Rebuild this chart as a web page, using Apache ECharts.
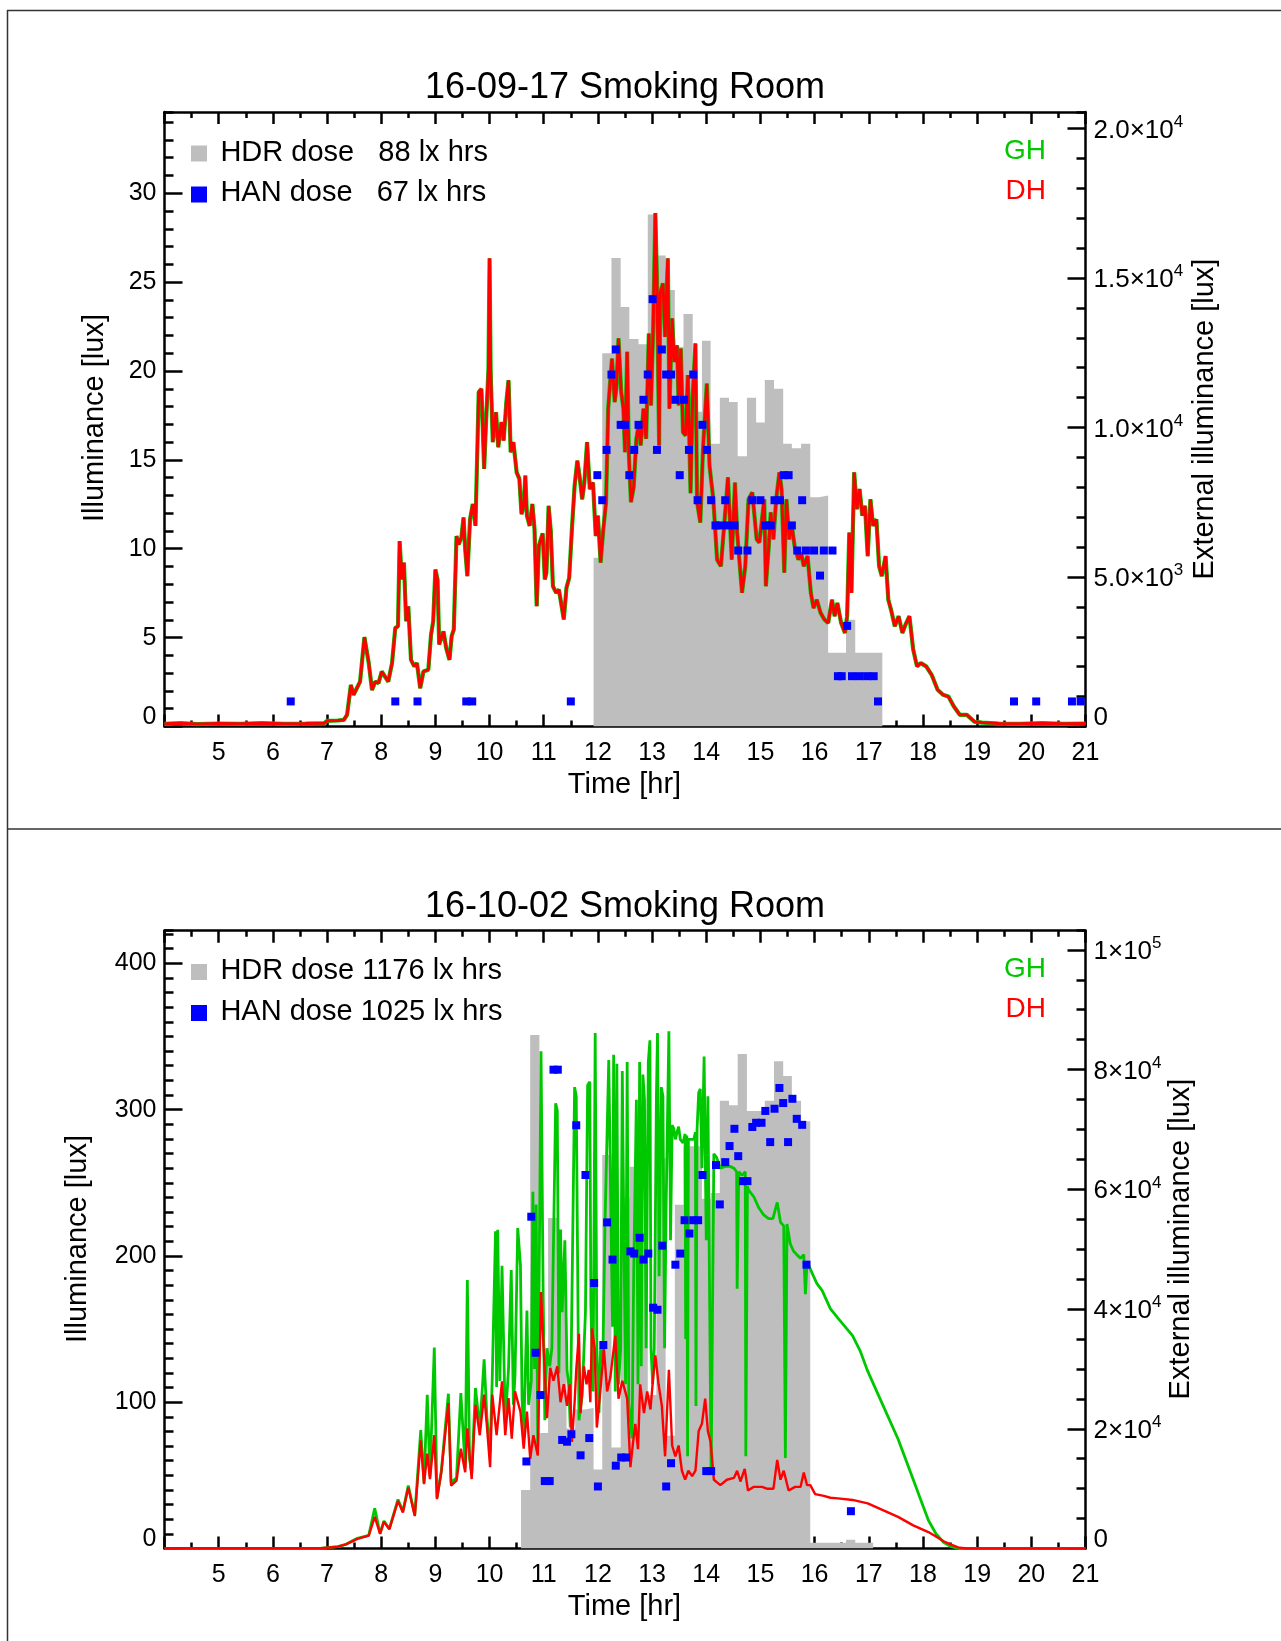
<!DOCTYPE html>
<html>
<head>
<meta charset="utf-8">
<script src="https://cdn.jsdelivr.net/npm/echarts@6.0.0/dist/echarts.min.js"></script>
<style>
html, body { margin: 0; padding: 0; background: #fff; }
#chart { width: 1281px; height: 1641px; }
</style>
</head>
<body>
<div id="chart"></div>
<script>
// ---------- 16-09-17 (top panel) ----------
// HDR dose, 10 min bins: bin start times [hr] and lux (last entry closes the last bin)
const hdrTopTimes = [11.92, 12.08, 12.25, 12.42, 12.58, 12.75, 12.92, 13.08, 13.25, 13.42, 13.58, 13.75, 13.92, 14.08, 14.25, 14.42,
    14.58, 14.75, 14.92, 15.08, 15.25, 15.42, 15.58, 15.75, 15.92, 16.08, 16.25, 16.42, 16.58, 16.75, 16.92, 17.08, 17.25];
const hdrTopLux = [9.5, 21.0, 26.35, 23.6, 21.8, 21.5, 28.8, 26.5, 24.55, 21.35, 23.2, 17.7, 21.7, 15.9, 18.5, 18.25,
    15.2, 18.5, 17.1, 19.5, 19.0, 15.9, 15.65, 15.9, 12.9, 13.0, 4.15, 4.15, 6.0, 4.15, 4.15, 4.15, 0];

// HAN readings [hr, lux]
const hanTop = [[6.33, 1.41], [8.26, 1.41], [8.67, 1.41], [9.57, 1.41], [9.68, 1.41], [11.5, 1.41],
    [11.99, 14.14], [12.08, 12.73], [12.16, 15.56], [12.25, 19.8], [12.33, 21.21], [12.42, 16.97], [12.5, 16.97], [12.58, 14.14],
    [12.67, 15.56], [12.75, 16.97], [12.84, 18.38], [12.92, 19.8], [13.01, 24.04], [13.09, 15.56], [13.18, 21.21], [13.26, 19.8],
    [13.35, 19.8], [13.43, 18.38], [13.51, 14.14], [13.59, 18.38], [13.68, 15.56], [13.76, 19.8], [13.84, 12.73], [13.93, 16.97],
    [14.01, 15.56], [14.09, 12.73], [14.17, 11.31], [14.26, 11.31], [14.35, 12.73], [14.4, 11.31], [14.52, 11.31], [14.59, 9.9],
    [14.76, 9.9], [14.85, 12.73], [15.0, 12.73], [15.09, 11.31], [15.19, 11.31], [15.26, 12.73], [15.36, 12.73], [15.43, 14.14],
    [15.52, 14.14], [15.58, 11.31], [15.68, 9.9], [15.77, 12.73], [15.84, 9.9], [15.99, 9.9], [16.1, 8.49], [16.17, 9.9],
    [16.33, 9.9], [16.43, 2.83], [16.5, 2.83], [16.6, 5.66], [16.69, 2.83], [16.83, 2.83], [16.97, 2.83], [17.09, 2.83],
    [17.17, 1.41], [19.68, 1.41], [20.09, 1.41], [20.75, 1.41], [20.91, 1.41]];

// DH external illuminance [hr, lux]
const dhTop = [[4.0, 90], [4.3, 110], [4.6, 80], [5.0, 100], [5.4, 90], [5.8, 110], [6.2, 90], [6.6, 100], [6.95, 110], [7.0, 190],
    [7.2, 200], [7.31, 220], [7.37, 390], [7.44, 1390], [7.49, 1060], [7.55, 1280], [7.61, 1500], [7.69, 2990], [7.77, 2120],
    [7.83, 1220], [7.89, 1500], [7.95, 1450], [8.01, 1840], [8.07, 1670], [8.13, 1500], [8.2, 2120], [8.26, 3300], [8.31, 3350],
    [8.34, 6200], [8.38, 4920], [8.42, 5480], [8.46, 3520], [8.5, 4020], [8.55, 2230], [8.61, 2010], [8.66, 2120], [8.72, 1280],
    [8.78, 1840], [8.87, 1900], [8.92, 3070], [8.96, 3520], [9.0, 5250], [9.04, 4920], [9.07, 2740], [9.15, 3180], [9.2, 2620],
    [9.26, 2230], [9.3, 3020], [9.34, 3240], [9.39, 6370], [9.43, 6090], [9.48, 6320], [9.52, 6990], [9.55, 5930], [9.59, 5030],
    [9.64, 6930], [9.69, 7440], [9.74, 6710], [9.8, 11180], [9.85, 11290], [9.9, 8610], [9.93, 9950], [9.98, 11960], [10.0, 15660],
    [10.02, 11850], [10.06, 9510], [10.12, 10510], [10.16, 9340], [10.22, 10180], [10.26, 9560], [10.31, 10850], [10.35, 11580],
    [10.39, 9170], [10.44, 9510], [10.5, 8500], [10.55, 8280], [10.59, 7100], [10.63, 7380], [10.66, 8390], [10.69, 7050],
    [10.74, 6710], [10.79, 7440], [10.83, 6600], [10.87, 4020], [10.91, 6040], [10.98, 6460], [11.02, 4920], [11.05, 5140],
    [11.09, 7380], [11.13, 6540], [11.17, 4690], [11.23, 4470], [11.28, 4580], [11.37, 3580], [11.42, 4640], [11.47, 4970],
    [11.52, 6600], [11.57, 8050], [11.62, 8890], [11.66, 8390], [11.71, 7600], [11.75, 8160], [11.8, 9510], [11.85, 7940],
    [11.91, 8160], [11.96, 6370], [12.0, 7050], [12.05, 5480], [12.1, 6600], [12.15, 7490], [12.19, 10630], [12.23, 11630],
    [12.26, 12300], [12.31, 10850], [12.34, 11300], [12.38, 12980], [12.43, 11190], [12.47, 10630], [12.5, 9170], [12.54, 12530],
    [12.57, 9170], [12.61, 7500], [12.66, 8000], [12.71, 9620], [12.75, 10070], [12.79, 9400], [12.84, 10630], [12.89, 9620],
    [12.94, 13140], [12.98, 10740], [13.02, 13310], [13.06, 17170], [13.09, 14880], [13.13, 9400], [13.15, 14490], [13.2, 14820],
    [13.24, 13030], [13.29, 15660], [13.32, 10630], [13.37, 13650], [13.41, 12190], [13.46, 12750], [13.49, 10740], [13.53, 12640],
    [13.57, 9840], [13.62, 9730], [13.66, 11750], [13.71, 7800], [13.75, 11070], [13.8, 12810], [13.83, 7500], [13.89, 6820],
    [13.94, 9280], [14.01, 11470], [14.06, 8720], [14.13, 7600], [14.2, 5580], [14.27, 5360], [14.33, 6710], [14.4, 8330],
    [14.47, 5580], [14.53, 8160], [14.57, 6490], [14.62, 5360], [14.66, 4470], [14.72, 5360], [14.78, 7600], [14.85, 7830],
    [14.93, 6260], [14.98, 6150], [15.07, 7600], [15.1, 4690], [15.15, 5930], [15.19, 7160], [15.24, 6260], [15.29, 7600],
    [15.35, 8500], [15.39, 7940], [15.44, 5140], [15.48, 7600], [15.53, 6260], [15.58, 6710], [15.63, 6040], [15.7, 5580],
    [15.75, 5810], [15.8, 5360], [15.87, 5700], [15.93, 4470], [15.98, 3960], [16.04, 4240], [16.11, 3800], [16.18, 3580],
    [16.25, 3460], [16.32, 4240], [16.37, 3690], [16.42, 4130], [16.49, 3460], [16.56, 3130], [16.6, 3690], [16.64, 6490],
    [16.68, 4470], [16.73, 8500], [16.78, 7270], [16.83, 7940], [16.88, 7050], [16.93, 7380], [16.98, 5700], [17.03, 7600],
    [17.08, 6710], [17.14, 6930], [17.19, 5360], [17.24, 5030], [17.31, 5700], [17.36, 4240], [17.41, 3910], [17.48, 3350],
    [17.55, 3690], [17.62, 3130], [17.69, 3460], [17.75, 3690], [17.82, 2570], [17.89, 2010], [17.96, 2120], [18.06, 2010],
    [18.16, 1730], [18.27, 1230], [18.37, 1060], [18.47, 1000], [18.57, 670], [18.68, 390], [18.81, 390], [18.95, 160],
    [19.09, 130], [19.4, 100], [19.8, 90], [20.2, 110], [20.6, 90], [21.0, 100]];
// overcast day: GH lies on DH within the line width, one trace read for both
const ghTop = dhTop;

// ---------- 16-10-02 (bottom panel) ----------
const hdrBotTimes = [10.58, 10.75, 10.92, 11.08, 11.25, 11.42, 11.58, 11.75, 11.92, 12.08, 12.25, 12.42, 12.58, 12.75, 12.92, 13.08,
    13.25, 13.42, 13.58, 13.75, 13.92, 14.08, 14.25, 14.42, 14.58, 14.75, 14.92, 15.08, 15.25, 15.42, 15.58, 15.75,
    15.92, 16.08, 16.25, 16.42, 16.58, 16.75, 16.92, 17.08];
const hdrBotLux = [40, 351, 79, 226, 189, 82, 95, 96, 54, 269, 69, 240, 261, 216, 105, 267,
    77, 235, 275, 275, 239, 243, 306, 303, 338, 299, 299, 306, 333, 323, 306, 292,
    4, 4, 4, 4, 6, 4, 4, 0];

const hanBot = [[10.68, 59.5], [10.77, 226.8], [10.85, 133.8], [10.94, 104.9], [11.02, 46.1], [11.11, 46.1], [11.18, 327.3],
    [11.26, 327.3], [11.34, 74.2], [11.43, 73.0], [11.51, 78.1], [11.6, 289.3], [11.68, 63.7], [11.77, 255.3], [11.84, 75.5],
    [11.93, 181.5], [12.0, 42.4], [12.1, 139.1], [12.17, 222.9], [12.27, 197.5], [12.33, 56.6], [12.43, 62.2], [12.52, 62.2],
    [12.6, 203.1], [12.67, 201.6], [12.77, 212.4], [12.84, 197.5], [12.93, 201.6], [13.02, 164.6], [13.1, 163.2], [13.19, 207.0],
    [13.26, 42.4], [13.35, 58.3], [13.43, 194.0], [13.52, 201.6], [13.6, 224.4], [13.69, 215.3], [13.76, 224.4], [13.85, 224.4],
    [13.93, 255.3], [14.0, 52.9], [14.09, 52.9], [14.18, 262.1], [14.25, 235.2], [14.35, 264.1], [14.43, 275.1], [14.52, 286.9],
    [14.59, 268.2], [14.68, 251.1], [14.76, 251.1], [14.85, 288.1], [14.92, 291.0], [15.02, 291.0], [15.09, 299.1], [15.18, 277.8],
    [15.26, 300.6], [15.35, 314.8], [15.42, 304.5], [15.51, 277.8], [15.59, 307.4], [15.67, 293.7], [15.77, 289.6], [15.85, 194.0],
    [16.67, 25.5]];

const dhBot = [[4.0, 30], [5.0, 30], [6.0, 30], [6.9, 40], [7.2, 300], [7.35, 700], [7.56, 1600], [7.77, 2150], [7.88, 5280],
    [7.98, 2450], [8.05, 4500], [8.15, 3200], [8.31, 7950], [8.4, 6000], [8.5, 10200], [8.62, 5420], [8.73, 18070], [8.79, 10760],
    [8.85, 15840], [8.9, 11600], [8.98, 18920], [9.03, 8240], [9.11, 12740], [9.24, 24280], [9.29, 10490], [9.39, 11320],
    [9.47, 16680], [9.55, 12740], [9.59, 20060], [9.67, 11600], [9.74, 24000], [9.82, 18920], [9.9, 25690], [9.95, 20620],
    [10.01, 13580], [10.05, 25690], [10.13, 18920], [10.23, 27930], [10.29, 18920], [10.35, 25130], [10.41, 18360], [10.47, 26250],
    [10.57, 22860], [10.63, 16680], [10.69, 22860], [10.75, 14990], [10.81, 18920], [10.89, 15540], [10.95, 42850], [11.0, 33000],
    [11.06, 21750], [11.12, 30190], [11.18, 28030],
    [11.25, 30440], [11.31, 24430], [11.37, 27430], [11.43, 23820], [11.48, 27430], [11.52, 17810], [11.57, 24430], [11.6, 29840],
    [11.65, 35860], [11.68, 22620], [11.74, 30440], [11.79, 27430], [11.83, 29840], [11.86, 24430], [11.89, 36760], [11.94, 33450],
    [11.98, 20210], [12.05, 26830], [12.11, 33450], [12.17, 26230], [12.23, 28640], [12.32, 35560], [12.38, 25030], [12.45, 28030],
    [12.54, 25030], [12.6, 13600], [12.65, 17810], [12.69, 20820], [12.74, 16600], [12.78, 27430], [12.85, 22620], [12.91, 26230],
    [12.97, 23220], [13.02, 28640], [13.06, 32250], [13.12, 27430], [13.18, 23820], [13.24, 15400], [13.31, 29840], [13.37, 17210],
    [13.43, 15400], [13.49, 17210], [13.55, 12990], [13.61, 11490], [13.67, 12990], [13.74, 12090], [13.8, 12990], [13.86, 19610],
    [13.92, 20820], [13.98, 25030], [14.03, 19610], [14.08, 17810], [14.14, 11490], [14.26, 10590], [14.38, 11490], [14.51, 11790],
    [14.57, 12990], [14.63, 11190], [14.71, 13300], [14.77, 9690], [14.87, 10290], [15.03, 10290], [15.12, 9990], [15.24, 9990],
    [15.31, 14800], [15.37, 11490], [15.43, 12990], [15.52, 9690], [15.64, 10290], [15.74, 10290], [15.8, 12690], [15.86, 10590],
    [15.92, 10590], [16.01, 9080], [16.17, 8780], [16.29, 8480], [16.43, 8380], [16.7, 8110], [16.98, 7550], [17.26, 6400],
    [17.54, 5280], [17.82, 3870], [18.1, 2750], [18.24, 2000], [18.38, 1210], [18.52, 640], [18.65, 190], [18.79, 0], [19.5, 20],
    [21.0, 20]];

const ghBot = [[4.0, 30], [5.0, 30], [6.0, 30], [6.9, 40], [7.2, 300], [7.35, 700], [7.56, 1700], [7.77, 2200], [7.88, 6700],
    [7.98, 2500], [8.05, 4600], [8.15, 3300], [8.31, 8200], [8.4, 6200], [8.5, 10500], [8.62, 5600], [8.73, 19780], [8.79, 11000],
    [8.85, 25690], [8.9, 12000], [8.98, 33570], [9.03, 8500], [9.11, 13000], [9.24, 25860], [9.29, 11000], [9.39, 11800],
    [9.47, 25970], [9.55, 13500], [9.59, 44830], [9.63, 15000], [9.67, 12500], [9.74, 26820], [9.82, 20000], [9.9, 31600],
    [9.95, 22000], [10.01, 16000], [10.05, 28500], [10.11, 52980], [10.13, 27000], [10.15, 53260], [10.19, 28000], [10.23, 47240],
    [10.29, 21000], [10.35, 30000], [10.4, 46510], [10.44, 24000], [10.47, 29000], [10.52, 53540], [10.57, 47350], [10.6, 25000],
    [10.63, 19000], [10.69, 39750], [10.72, 24000], [10.77, 28000], [10.8, 59610], [10.83, 30000], [10.86, 57470], [10.89, 17000],
    [10.95, 83080], [10.99, 41870], [11.02, 21420], [11.06, 33450], [11.11, 30440], [11.15, 33450], [11.22, 74360], [11.25, 73150],
    [11.28, 29240], [11.31, 53300], [11.34, 39460], [11.39, 51500], [11.43, 29840], [11.46, 27430], [11.49, 20210], [11.57, 77070],
    [11.6, 75560], [11.65, 21420], [11.71, 25630], [11.77, 39460], [11.81, 77370], [11.85, 77970], [11.87, 40670], [11.91, 26230],
    [11.95, 86090], [11.98, 33450], [12.02, 22620], [12.05, 33450], [12.09, 31040], [12.13, 53900], [12.16, 53900], [12.2, 81580],
    [12.23, 81580], [12.27, 37060], [12.29, 82480], [12.32, 26230], [12.35, 80980], [12.38, 27430], [12.42, 33450], [12.45, 79770],
    [12.48, 51500], [12.51, 27430], [12.54, 81280], [12.57, 24430], [12.63, 18410], [12.66, 45480], [12.71, 74960], [12.74, 27430],
    [12.77, 81280], [12.8, 30440], [12.83, 79170], [12.86, 74960], [12.89, 33450], [12.93, 81280], [12.96, 84890], [12.98, 33450],
    [13.01, 27430], [13.04, 33450], [13.08, 75560], [13.1, 86090], [13.13, 45480], [13.17, 77070], [13.2, 75560], [13.23, 33450],
    [13.26, 57510], [13.31, 86390], [13.34, 51500], [13.37, 70750], [13.4, 70150], [13.43, 68340], [13.46, 69550], [13.49, 70450],
    [13.52, 68340], [13.57, 67740], [13.61, 69250], [13.62, 35000], [13.64, 69000], [13.655, 15400], [13.67, 68340], [13.71, 68340],
    [13.77, 68340], [13.8, 69550], [13.81, 23800], [13.83, 70000], [13.86, 76160], [13.89, 76770], [13.92, 63530], [13.96, 82180],
    [14.0, 51500], [14.03, 75560], [14.06, 75560], [14.09, 12390], [14.14, 65940], [14.19, 65330], [14.26, 63530], [14.35, 63830],
    [14.44, 63830], [14.51, 63530], [14.56, 62930], [14.57, 43380], [14.6, 62930], [14.66, 62330], [14.72, 62930], [14.73, 15400],
    [14.76, 60520], [14.78, 59920], [14.88, 58720], [14.97, 56910], [15.06, 55710], [15.15, 55110], [15.23, 55110], [15.31, 57810],
    [15.37, 54500], [15.43, 53900], [15.46, 15100], [15.49, 54200], [15.55, 50900], [15.61, 49690], [15.67, 49090], [15.74, 48490],
    [15.8, 49090], [15.83, 42470], [15.86, 47890], [15.95, 46080], [16.04, 44280], [16.14, 43070], [16.2, 41870], [16.29, 40070],
    [16.43, 38500], [16.7, 35570], [16.84, 33020], [16.98, 29620], [17.26, 23960], [17.54, 18300], [17.68, 14910], [17.82, 11510],
    [17.96, 8120], [18.1, 4720], [18.24, 2460], [18.38, 1040], [18.52, 300], [18.65, 0], [19.5, 20], [21.0, 20]];

// tick labels of the external illuminance axes: mantissa part and power of ten
const rightTopTicks = [0, 5000, 10000, 15000, 20000];
const rightTopBase = ['0', '5.0×10', '1.0×10', '1.5×10', '2.0×10'];
const rightTopExp = ['', '3', '4', '4', '4'];
const rightBotTicks = [0, 20000, 40000, 60000, 80000, 100000];
const rightBotBase = ['0', '2×10', '4×10', '6×10', '8×10', '1×10'];
const rightBotExp = ['', '4', '4', '4', '4', '5'];

const FONT = 'Liberation Sans, Arial, Helvetica, sans-serif';
const GREEN = '#00c800';
const RED = '#ff0000';
const GREY = '#bebebe';
const BLUE = '#0000ff';
const AXW = 2.5;

const zip = (a, b) => a.map((t, i) => [t, b[i]]);
const zeroRich = { z: { fontSize: 25, fontFamily: FONT, color: '#000', padding: [0, 0, 18, 0] } };
const powRich = {
    z: { fontSize: 26, fontFamily: FONT, color: '#000', padding: [0, 0, 18, 0] },
    b: { fontSize: 26, fontFamily: FONT, color: '#000', lineHeight: 30, verticalAlign: 'bottom' },
    s: { fontSize: 17, fontFamily: FONT, color: '#000', lineHeight: 30, verticalAlign: 'top' }
};
const blackLine = { lineStyle: { color: '#000', width: AXW } };

function xAxes(gridIndex) {
    const base = {
        type: 'value', gridIndex: gridIndex, min: 4, max: 21, interval: 1,
        axisLine: { onZero: false, lineStyle: { color: '#000', width: AXW } },
        axisTick: { inside: true, length: 12, lineStyle: { color: '#000', width: AXW } },
        minorTick: { show: true, splitNumber: 2, length: 6, lineStyle: { color: '#000', width: AXW } },
        splitLine: { show: false }, minorSplitLine: { show: false }
    };
    return [
        Object.assign({}, base, {
            position: 'bottom',
            axisLabel: { margin: 14, color: '#000', fontSize: 25, fontFamily: FONT, formatter: v => v === 4 ? '' : String(v) }
        }),
        Object.assign({}, base, { position: 'top', axisLabel: { show: false } })
    ];
}

function yAxes(gridIndex, leftMax, leftMajor, leftMinor, rightMax, rightMajor, rightMinor, rTicks, rBase, rExp) {
    const common = { type: 'value', gridIndex: gridIndex, min: 0, splitLine: { show: false } };
    return [
        Object.assign({}, common, {
            max: leftMax, interval: leftMajor, position: 'left',
            axisLine: Object.assign({ show: true, onZero: false }, blackLine),
            axisTick: Object.assign({ inside: true, length: 18 }, blackLine),
            axisLabel: {
                margin: 8, color: '#000', fontSize: 25, fontFamily: FONT, showMaxLabel: false,
                formatter: v => v === 0 ? '{z|0}' : String(v), rich: zeroRich
            }
        }),
        Object.assign({}, common, {
            max: leftMax, interval: leftMinor, position: 'left',
            axisLine: { show: false }, axisTick: Object.assign({ inside: true, length: 9 }, blackLine),
            axisLabel: { show: false }
        }),
        Object.assign({}, common, {
            max: rightMax, interval: rightMajor, position: 'right',
            axisLine: Object.assign({ show: true, onZero: false }, blackLine),
            axisTick: Object.assign({ inside: true, length: 18 }, blackLine),
            axisLabel: {
                margin: 8, color: '#000', fontSize: 26, fontFamily: FONT, showMaxLabel: false,
                formatter: v => {
                    const i = rTicks.indexOf(v);
                    if (i < 0) return '';
                    if (v === 0) return '{z|0}';
                    return '{b|' + rBase[i] + '}{s|' + rExp[i] + '}';
                },
                rich: powRich
            }
        }),
        Object.assign({}, common, {
            max: rightMax, interval: rightMinor, position: 'right',
            axisLine: { show: false }, axisTick: Object.assign({ inside: true, length: 9 }, blackLine),
            axisLabel: { show: false }
        })
    ];
}

function panelSeries(xi, yLeft, yRight, hdr, han, gh, dh, ghWidth, dhWidth) {
    return [
        {
            type: 'line', name: 'HDR', xAxisIndex: xi, yAxisIndex: yLeft, step: 'end', data: hdr,
            symbol: 'none', lineStyle: { width: 0, opacity: 0 }, areaStyle: { color: GREY, opacity: 1 }, z: 1, silent: true
        },
        {
            type: 'line', name: 'GH', xAxisIndex: xi, yAxisIndex: yRight, data: gh,
            symbol: 'none', lineStyle: { color: GREEN, width: ghWidth }, z: 2, silent: true
        },
        {
            type: 'line', name: 'DH', xAxisIndex: xi, yAxisIndex: yRight, data: dh,
            symbol: 'none', lineStyle: { color: RED, width: dhWidth }, z: 3, silent: true
        },
        {
            type: 'scatter', name: 'HAN', xAxisIndex: xi, yAxisIndex: yLeft, data: han,
            symbol: 'rect', symbolSize: 8, itemStyle: { color: BLUE, opacity: 1 }, z: 4, silent: true
        }
    ];
}

function txt(x, y, text, size, opts) {
    const o = opts || {};
    return {
        type: 'text', x: x, y: y, rotation: o.rot || 0, z: 100,
        style: {
            text: text, fontSize: size, fontFamily: FONT, fill: o.color || '#000',
            align: o.align || 'center', verticalAlign: 'middle',
            textAlign: o.align || 'center', textVerticalAlign: 'middle'
        }
    };
}
function sq(x, y, color) {
    return { type: 'rect', shape: { x: x, y: y, width: 16, height: 16 }, style: { fill: color }, z: 100 };
}
function hline(x1, y1, x2, y2) {
    return { type: 'line', shape: { x1: x1, y1: y1, x2: x2, y2: y2 }, style: { stroke: '#333', lineWidth: 1.5 }, z: 100 };
}

const chart = echarts.init(document.getElementById('chart'), null, { renderer: 'canvas' });
chart.setOption({
    animation: false,
    backgroundColor: '#fff',
    grid: [
        { left: 164.5, top: 112, width: 921, height: 614.5, containLabel: false },
        { left: 164.5, top: 930.7, width: 921, height: 617.8, containLabel: false }
    ],
    xAxis: xAxes(0).concat(xAxes(1)),
    yAxis: yAxes(0, 34.57, 5, 1, 20550, 5000, 1000, rightTopTicks, rightTopBase, rightTopExp)
        .concat(yAxes(1, 422.3, 100, 10, 103200, 20000, 5000, rightBotTicks, rightBotBase, rightBotExp)),
    series: panelSeries(0, 0, 2, zip(hdrTopTimes, hdrTopLux), hanTop, ghTop, dhTop, 4.2, 3)
        .concat(panelSeries(2, 4, 6, zip(hdrBotTimes, hdrBotLux), hanBot, ghBot, dhBot, 2.8, 2.4)),
    graphic: [
        hline(7, 10.5, 1281, 10.5),
        hline(7.5, 10, 7.5, 1641),
        hline(7, 829, 1281, 829),
        // top panel
        txt(625, 88, '16-09-17 Smoking Room', 36),
        txt(94.7, 418, 'Illuminance [lux]', 29, { rot: Math.PI / 2 }),
        txt(1205, 419, 'External illuminance [lux]', 29, { rot: Math.PI / 2 }),
        txt(624.5, 785, 'Time [hr]', 29),
        sq(191, 145.5, GREY), txt(220.4, 153, 'HDR dose   88 lx hrs', 29, { align: 'left' }),
        sq(191, 186.5, BLUE), txt(220.4, 193, 'HAN dose   67 lx hrs', 29, { align: 'left' }),
        txt(1046, 151, 'GH', 28, { align: 'right', color: GREEN }),
        txt(1046, 191, 'DH', 28, { align: 'right', color: RED }),
        // bottom panel
        txt(625, 907, '16-10-02 Smoking Room', 36),
        txt(78, 1239, 'Illuminance [lux]', 29, { rot: Math.PI / 2 }),
        txt(1180.5, 1239, 'External illuminance [lux]', 29, { rot: Math.PI / 2 }),
        txt(624.5, 1607, 'Time [hr]', 29),
        sq(191, 964, GREY), txt(220.4, 971, 'HDR dose 1176 lx hrs', 29, { align: 'left' }),
        sq(191, 1005, BLUE), txt(220.4, 1012, 'HAN dose 1025 lx hrs', 29, { align: 'left' }),
        txt(1046, 969, 'GH', 28, { align: 'right', color: GREEN }),
        txt(1046, 1009.5, 'DH', 28, { align: 'right', color: RED })
    ]
});
</script>
</body>
</html>
